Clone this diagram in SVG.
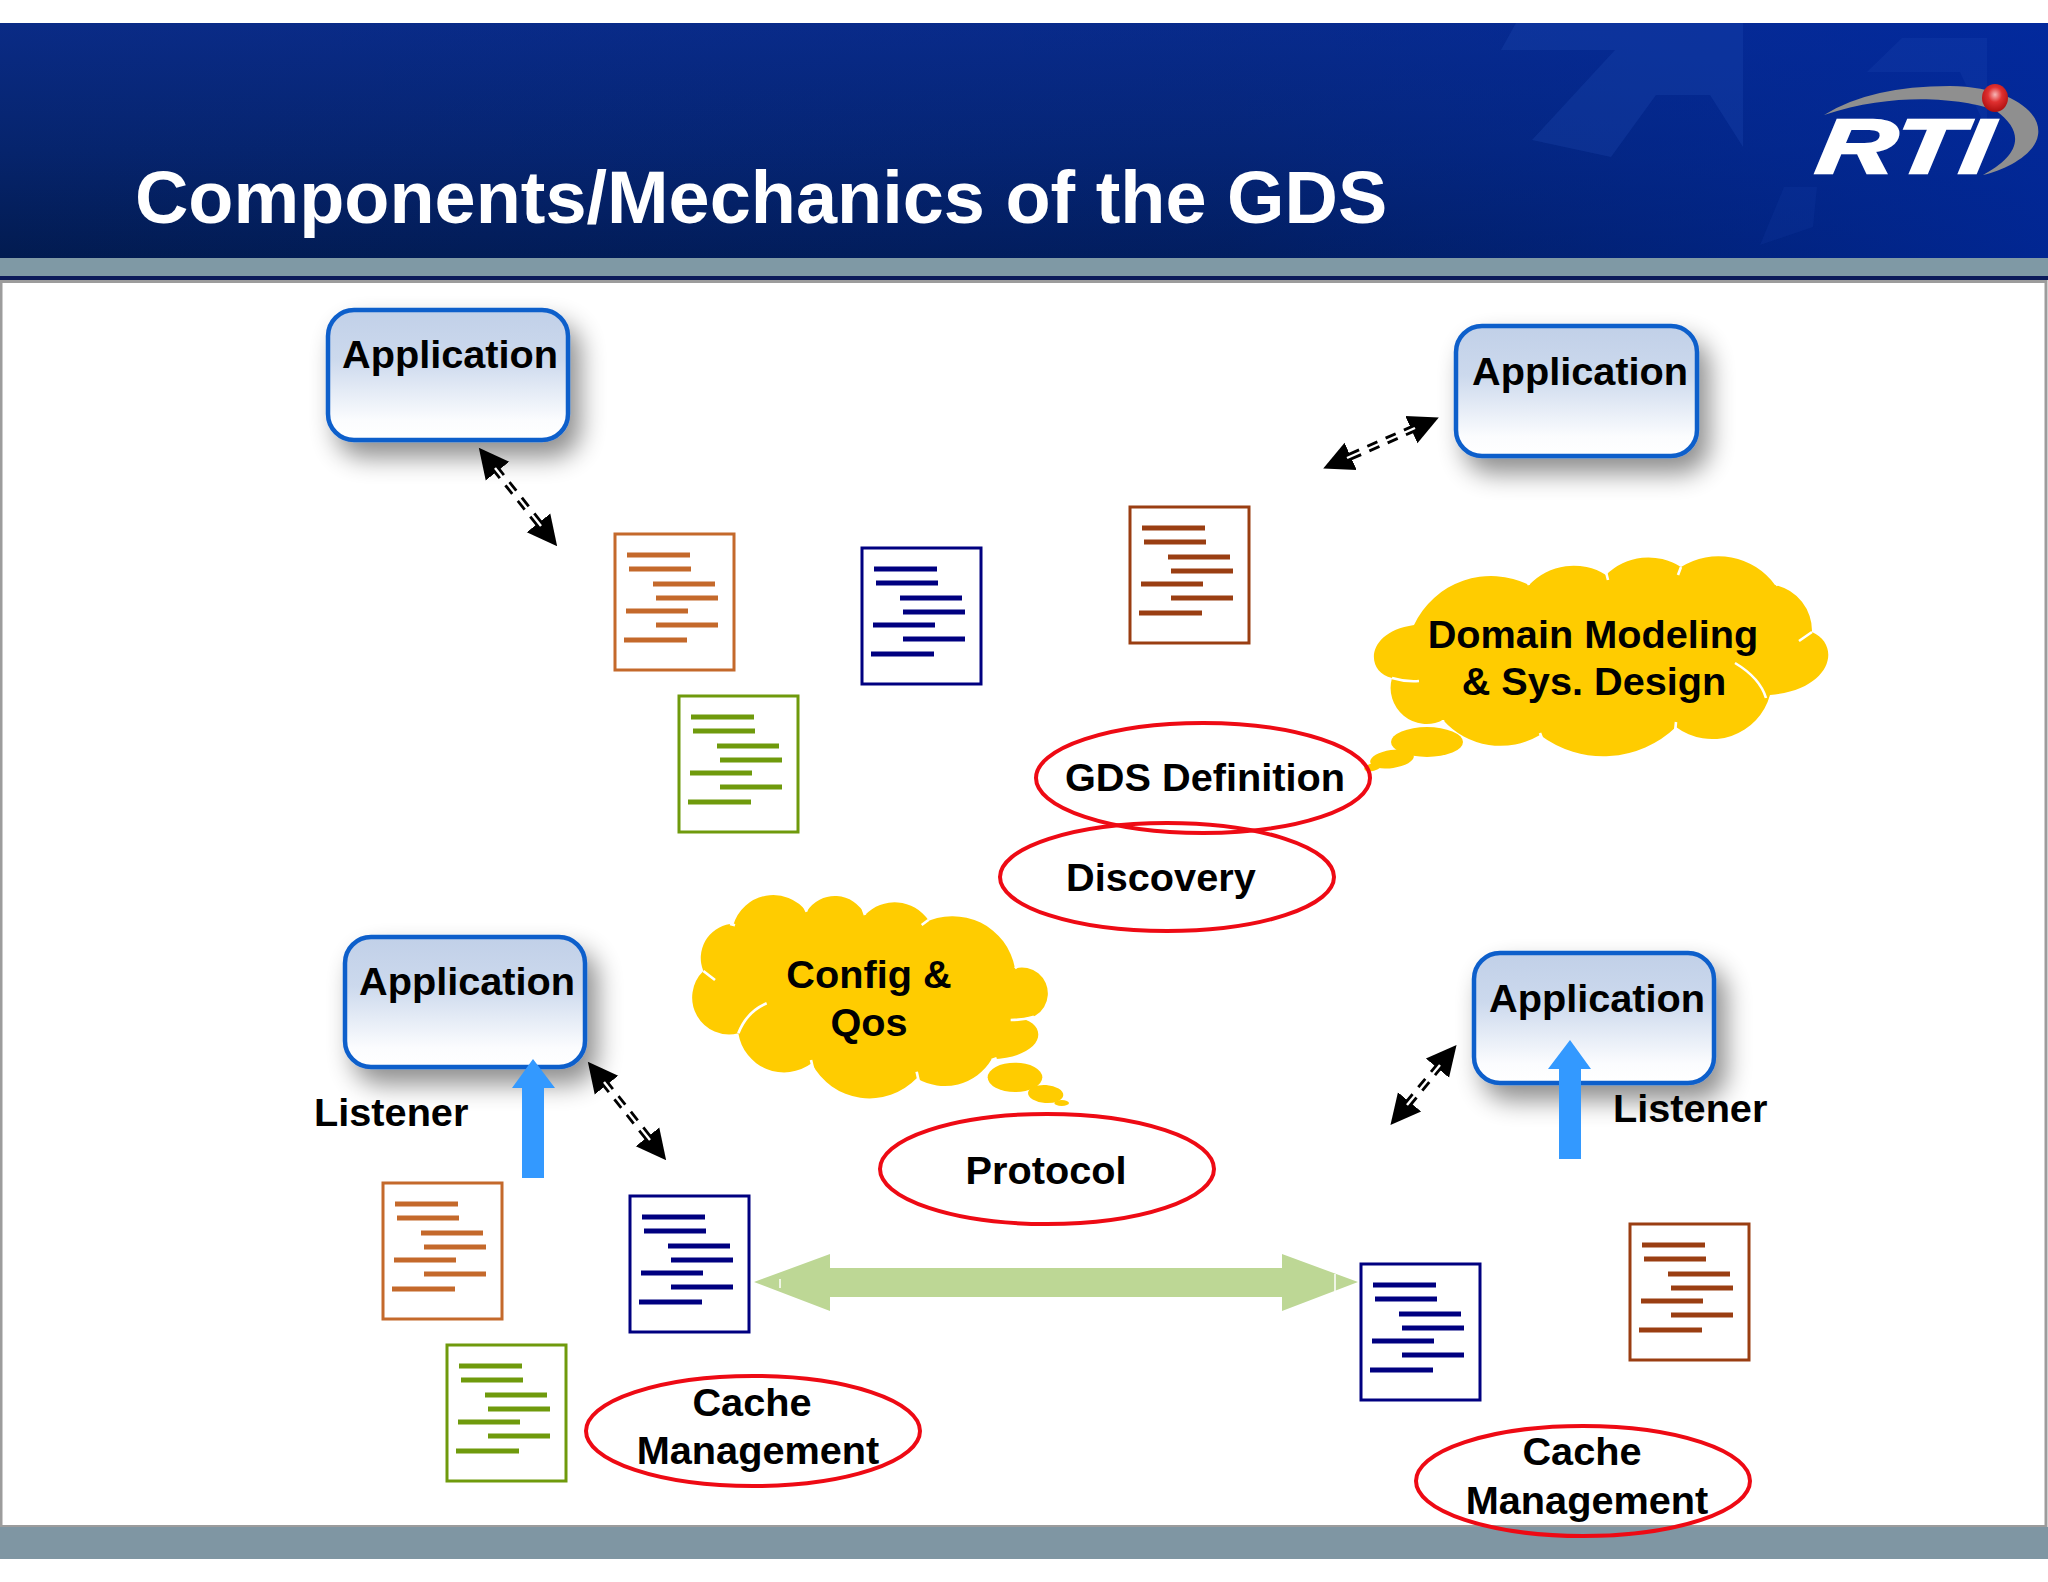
<svg xmlns="http://www.w3.org/2000/svg" width="2048" height="1582" viewBox="0 0 2048 1582">
<style>
text{font-family:"Liberation Sans",Arial,sans-serif;font-weight:700;font-size:39.700px;fill:#000}
.m{text-anchor:middle}
.box{fill:url(#appFill);stroke:#0F5FCB;stroke-width:4.5}
.oval{fill:none;stroke:#EE0A14;stroke-width:4}
.cloud{fill:#FFCC00}
.slit{fill:none;stroke:#fff;stroke-width:2.6}
.dr{fill:#fff;stroke:currentColor;stroke-width:3}
.dl{fill:none;stroke:currentColor;stroke-width:5.200}
.orange{color:#C4692B}.navy{color:#000080}.brown{color:#9A3E12}.green{color:#6F9A0C}
.dash{fill:none;stroke:#000;stroke-width:8;stroke-dasharray:11 9;marker-start:url(#head);marker-end:url(#head)}
.split{fill:none;stroke:#fff;stroke-width:2.4}
.blue{fill:#3399FF}
</style>
<defs>
<linearGradient id="appFill" x1="0" y1="0" x2="0" y2="1"><stop offset="0" stop-color="#C1D0E8"/><stop offset=".38" stop-color="#CCD9ED"/><stop offset=".85" stop-color="#FBFCFE"/><stop offset="1" stop-color="#FFFFFF"/></linearGradient>
<linearGradient id="hdrV" x1="0" y1="0" x2="0" y2="1"><stop offset="0" stop-color="#0A2B86"/><stop offset=".55" stop-color="#06246C"/><stop offset="1" stop-color="#021B50"/></linearGradient>
<linearGradient id="hdrH" x1="0" y1="0" x2="1" y2="0"><stop offset="0" stop-color="#0129A2" stop-opacity="0"/><stop offset=".6" stop-color="#0129A2" stop-opacity=".2"/><stop offset="1" stop-color="#0129A2" stop-opacity=".8"/></linearGradient>
<radialGradient id="ball" cx=".5" cy=".38" r=".6"><stop offset="0" stop-color="#F7B7B7"/><stop offset=".45" stop-color="#E03030"/><stop offset="1" stop-color="#B01010"/></radialGradient>
<filter id="sh" x="-20%" y="-25%" width="150%" height="170%"><feGaussianBlur in="SourceAlpha" stdDeviation="13"/><feOffset dx="10" dy="15"/><feComponentTransfer><feFuncA type="linear" slope=".45"/></feComponentTransfer><feMerge><feMergeNode/><feMergeNode in="SourceGraphic"/></feMerge></filter>
<marker id="head" markerUnits="userSpaceOnUse" markerWidth="32" markerHeight="32" refX="4" refY="16" orient="auto-start-reverse" viewBox="0 0 32 32"><path d="M0 1L30 16L0 31Z" fill="#000"/></marker>
<g id="docShape"><rect class="dr" x="0" y="0" width="119" height="136"/><path class="dl" d="M12 21H75M14 35H76M38 50H100M41 64H103M11 77H73M41 91H103M9 106H72"/></g>
<path id="configCloud" d="M160 165A125 125 0 0 1 380 125A100 100 0 0 1 555 135A123 123 0 0 1 745 150L730 160A190 190 0 0 1 1005 295A78 78 0 1 1 995 442C1110 445 1110 560 935 568A164 164 0 0 1 710 625A196 196 0 0 1 395 580A139 139 0 0 1 175 490A111 111 0 0 1 70 303A103 103 0 0 1 150 162Z"/>
</defs>

<g id="background">
<rect width="2048" height="1582" fill="#fff"/>
<rect y="23" width="2048" height="235" fill="url(#hdrV)"/>
<rect y="23" width="2048" height="235" fill="url(#hdrH)"/>
<path d="M1516 23H1743V147L1710 95H1656L1611 157L1532 140L1615 50H1501Z" fill="#2A55BE" opacity=".22"/>
<path d="M1902 38H1987V130L1960 72H1867Z" fill="#2A55BE" opacity=".16"/>
<path d="M1784 187H1817L1813 227L1760 245Z" fill="#2A55BE" opacity=".12"/>
<rect y="258" width="2048" height="18" fill="#7F99A5"/>
<rect y="276" width="2048" height="4" fill="#0B1A5A"/>
<rect x="1" y="281.500" width="2045" height="1245" fill="#fff" stroke="#9C9C9C" stroke-width="3"/>
<rect y="1527" width="2048" height="32" fill="#7F96A3"/>
</g>

<g id="title"><text x="135" y="223" style="font-size:73.900px;fill:#fff">Components/Mechanics of the GDS</text></g>

<g id="logo">
<path d="M1824 115Q1870 86 1950 86C2010 87 2042 112 2038 135C2035 155 2005 170 1983 175C2015 158 2030 135 1995 110C1965 100 1900 90 1824 115Z" fill="#8F8F8F"/>
<text x="0" y="0" transform="translate(1814 173) skewX(-8) scale(1.42 1)" style="font-size:77px;font-style:italic;fill:#fff;stroke:#fff;stroke-width:2.500">RTI</text>
<ellipse cx="1995" cy="98" rx="13" ry="14" fill="url(#ball)"/>
</g>

<g id="app-1"><rect class="box" x="328" y="310" width="240" height="130" rx="26" filter="url(#sh)"/><text x="342" y="368">Application</text></g>
<g id="app-2"><rect class="box" x="1456" y="326" width="241" height="130" rx="26" filter="url(#sh)"/><text x="1472" y="385">Application</text></g>
<g id="app-3"><rect class="box" x="345" y="937" width="240" height="130" rx="26" filter="url(#sh)"/><text x="359" y="995">Application</text></g>
<g id="app-4"><rect class="box" x="1474" y="953" width="240" height="130" rx="26" filter="url(#sh)"/><text x="1489" y="1012">Application</text></g>

<g id="connectors">
<path class="dash" d="M495 468L541 526"/><path class="split" d="M495 468L541 526"/>
<path class="dash" d="M1415 428L1347 458"/><path class="split" d="M1415 428L1347 458"/>
<path class="dash" d="M604 1082L650 1140"/><path class="split" d="M604 1082L650 1140"/>
<path class="dash" d="M1440 1065L1407 1105"/><path class="split" d="M1440 1065L1407 1105"/>
<g id="protocol-link"><path d="M754 1282L830 1254V1268H1282V1254L1358 1282L1282 1311V1297H830V1311Z" fill="#BDD795"/><path d="M780 1279V1288M1335 1274V1291" stroke="#fff" stroke-width="1.500"/></g>
<path class="blue" d="M533 1059L555 1088H544V1178H522V1088H512Z"/>
<path class="blue" d="M1570 1040L1591 1069H1581V1159H1559V1069H1548Z"/>
</g>

<g id="doc-orange-1" class="orange" transform="translate(615 534)"><use href="#docShape"/></g>
<g id="doc-navy-1" class="navy" transform="translate(862 548)"><use href="#docShape"/></g>
<g id="doc-brown-1" class="brown" transform="translate(1130 507)"><use href="#docShape"/></g>
<g id="doc-green-1" class="green" transform="translate(679 696)"><use href="#docShape"/></g>
<g id="doc-orange-2" class="orange" transform="translate(383 1183)"><use href="#docShape"/></g>
<g id="doc-navy-2" class="navy" transform="translate(630 1196)"><use href="#docShape"/></g>
<g id="doc-green-2" class="green" transform="translate(447 1345)"><use href="#docShape"/></g>
<g id="doc-navy-3" class="navy" transform="translate(1361 1264)"><use href="#docShape"/></g>
<g id="doc-brown-2" class="brown" transform="translate(1630 1224)"><use href="#docShape"/></g>

<g id="cloud-domain">
<path class="cloud" d="M1414 625A85 85 0 0 1 1529 585A61 61 0 0 1 1606 575A60 60 0 0 1 1681 567A70 70 0 0 1 1775 585A47 47 0 0 1 1812 632C1842 645 1832 690 1770 695A60 60 0 0 1 1676 727A105 105 0 0 1 1540 735A77 77 0 0 1 1443 720A36 36 0 0 1 1392 678C1365 672 1365 632 1414 625Z"/>
<path class="slit" d="M1735 663Q1760 678 1766 698M1392 678Q1405 682 1419 681M1812 632L1799 641M1781 583L1776 585M1681 567L1678 575M1606 572L1608 580M1529 585L1526 579M1443 720V727M1676 722L1675 732M1540 733L1543 741"/>
<ellipse class="cloud" cx="1427" cy="742" rx="36" ry="15"/>
<ellipse class="cloud" cx="1392" cy="759" rx="22" ry="9" transform="rotate(-8 1392 759)"/>
<ellipse class="cloud" cx="1373" cy="767" rx="9" ry="4" transform="rotate(-15 1373 767)"/>
<text class="m" x="1593" y="648">Domain Modeling</text>
<text class="m" x="1594" y="695">&amp; Sys. Design</text>
</g>

<g id="cloud-config">
<g transform="translate(680 870) scale(.33333)">
<use href="#configCloud" class="cloud"/>
<path class="slit" style="stroke-width:8" d="M260 400Q200 425 175 490M70 303L105 330M150 162L165 166M380 125L370 102M555 135L549 118M745 150L725 165M1005 295L1016 286M992 450Q1030 450 1062 440M935 570L950 565M710 605L716 632M393 570L400 600"/>
<ellipse class="cloud" cx="1005" cy="622" rx="82" ry="44"/>
<ellipse class="cloud" cx="1097" cy="672" rx="53" ry="27" transform="rotate(4 1097 672)"/>
<ellipse class="cloud" cx="1145" cy="699" rx="22" ry="9"/>
</g>
<text class="m" x="869" y="988">Config &amp;</text>
<text class="m" x="869" y="1036">Qos</text>
</g>

<g id="oval-gds"><ellipse class="oval" cx="1203" cy="778" rx="167" ry="55"/><text class="m" x="1205" y="791">GDS Definition</text></g>
<g id="oval-discovery"><ellipse class="oval" cx="1167" cy="877" rx="167" ry="54"/><text x="1066" y="891">Discovery</text></g>
<g id="oval-protocol"><ellipse class="oval" cx="1047" cy="1169" rx="167" ry="55"/><text class="m" x="1046" y="1184">Protocol</text></g>
<g id="oval-cache-1"><ellipse class="oval" cx="753" cy="1431" rx="167" ry="55"/><text class="m" x="752" y="1416">Cache</text><text class="m" x="758" y="1464">Management</text></g>
<g id="oval-cache-2"><ellipse class="oval" cx="1583" cy="1481" rx="167" ry="55"/><text class="m" x="1582" y="1465">Cache</text><text class="m" x="1587" y="1514">Management</text></g>

<g id="listener-1"><text x="314" y="1126">Listener</text></g>
<g id="listener-2"><text x="1613" y="1122">Listener</text></g>
</svg>
